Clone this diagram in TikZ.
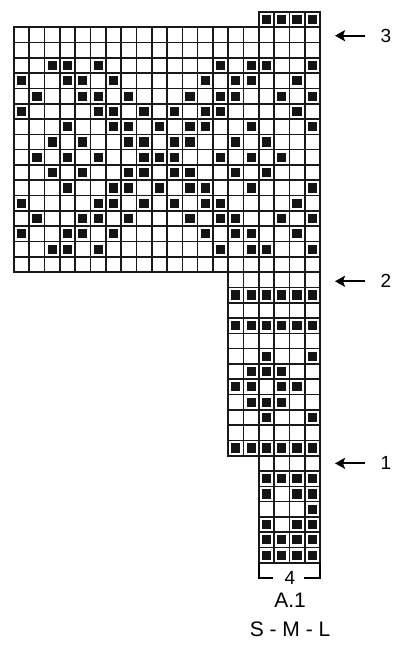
\documentclass[tikz,border=0pt]{standalone}
\usepackage{fontspec}
\setmainfont{Liberation Sans}
\usetikzlibrary{arrows.meta}
\newcommand\chartblock[4]{%
  \foreach \i in {#1,...,#3} \draw[gridline] (\i,#2) -- (\i,#4);
  \foreach \j in {#2,...,#4} \draw[gridline] (#1,\j) -- (#3,\j);
}
\begin{document}
\begin{tikzpicture}[x=15.3pt,y=-15.3pt,
  gridline/.style={line width=1.6pt, draw=black!90, line cap=rect},
  stitch/.style={fill=black!92},
  marker/.style={line width=2pt, -{Stealth[length=10pt,width=11pt,inset=2pt]}},
  bracket/.style={line width=2pt},
  rowlabel/.style={font=\fontsize{19}{21}\selectfont, inner sep=0pt},
  caption/.style={font=\fontsize{21}{24}\selectfont, inner sep=0pt}]
\useasboundingbox[fill=white] (-0.915,-1.784) rectangle (25.556,40.699);

% grid blocks
\chartblock{16}{-1}{20}{0}
\chartblock{0}{0}{20}{16}
\chartblock{14}{16}{20}{28}
\chartblock{16}{28}{20}{35}

% stitches (row / columns)
\foreach \r/\cl in {
  0/{17,18,19,20},
  3/{3,4,6,14,16,17,20},
  4/{1,4,5,7,13,15,16,19},
  5/{2,5,6,8,12,14,15,18,20},
  6/{1,6,7,9,11,13,14,19},
  7/{4,7,8,10,12,13,16,20},
  8/{3,5,8,9,11,12,15,17},
  9/{2,4,6,9,10,11,14,16,18},
  10/{3,5,8,9,11,12,15,17},
  11/{4,7,8,10,12,13,16,20},
  12/{1,6,7,9,11,13,14,19},
  13/{2,5,6,8,12,14,15,18,20},
  14/{1,4,5,7,13,15,16,19},
  15/{3,4,6,14,16,17,20},
  18/{15,16,17,18,19,20},
  20/{15,16,17,18,19,20},
  22/{17,20},
  23/{16,17,18},
  24/{15,16,18,19},
  25/{16,17,18},
  26/{17,20},
  28/{15,16,17,18,19,20},
  30/{17,18,19,20},
  31/{17,19,20},
  32/{20},
  33/{17,19,20},
  34/{17,18,19,20},
  35/{17,18,19,20}} {
  \foreach \c in \cl {
    \fill[stitch] (\c-0.8,\r-0.8) rectangle (\c-0.2,\r-0.2);
  }
}

% row markers
\coordinate (s3) at (22.94,0.55);  \coordinate (e3) at (20.98,0.55);
\coordinate (s2) at (22.94,16.6); \coordinate (e2) at (20.98,16.6);
\coordinate (s1) at (22.94,28.5);  \coordinate (e1) at (20.98,28.5);
\draw[marker] (s3) -- (e3);
\draw[marker] (s2) -- (e2);
\draw[marker] (s1) -- (e1);
\node[rowlabel] (n3) at (24.31,0.55) {3};
\node[rowlabel] (n2) at (24.31,16.6) {2};
\node[rowlabel] (n1) at (24.31,28.5) {1};

% repeat bracket
\node[rowlabel] (rep) at (18.04,36) {4};
\coordinate (bl0) at (16,35); \coordinate (bl1) at (16,36); \coordinate (bl2) at (16.95,36);
\coordinate (br0) at (20,35); \coordinate (br1) at (20,36); \coordinate (br2) at (18.95,36);
\draw[bracket] (bl0) -- (bl1) -- (bl2);
\draw[bracket] (br0) -- (br1) -- (br2);

% captions
\node[caption] (name) at (18.04,37.48) {A.1};
\node[caption] (sizes) at (18.04,39.33) {S - M - L};
\end{tikzpicture}
\end{document}
